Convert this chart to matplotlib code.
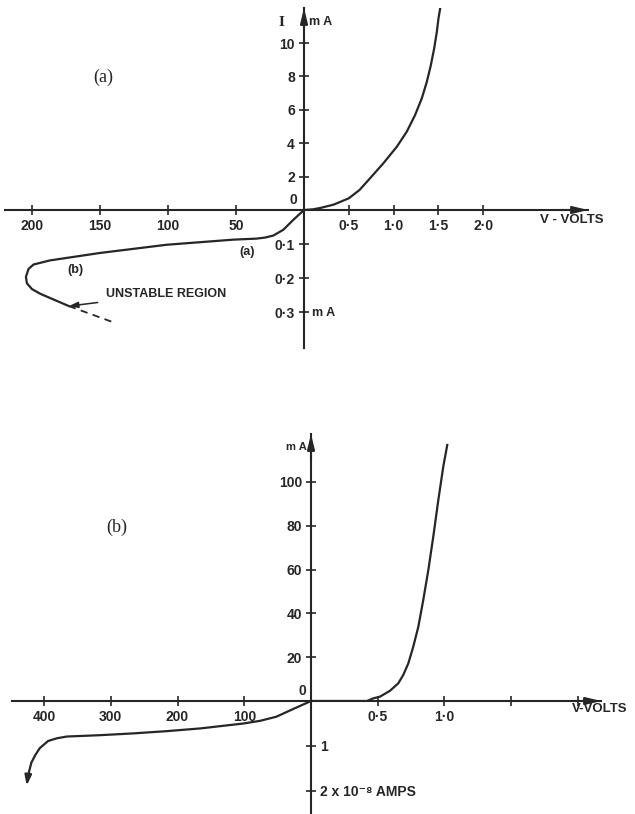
import numpy as np
import matplotlib.pyplot as plt

W, H = 635, 814
INK = "#262626"
plt.rcParams["font.family"] = ["Liberation Sans", "DejaVu Sans"]
plt.rcParams["font.weight"] = "bold"

# ---------- (a) characteristic ----------
fwd_a_v = [0.0, 0.10, 0.18, 0.33, 0.50, 0.62, 0.737, 0.886, 1.036, 1.147, 1.240,
           1.315, 1.371, 1.416, 1.453, 1.483, 1.501, 1.520]
fwd_a_i = [0.0, 0.04, 0.12, 0.32, 0.70, 1.20, 1.90, 2.80, 3.79, 4.69, 5.69,
           6.69, 7.68, 8.68, 9.68, 10.68, 11.48, 12.08]
rev_a_v = [0, -7.9, -15.2, -22.6, -28.7, -35, -52, -101, -150, -187, -199,
           -202.7, -204.6, -203.9, -200.2, -194, -173]
rev_a_i = [0, -0.029, -0.058, -0.075, -0.081, -0.084, -0.087, -0.102, -0.126, -0.148, -0.160,
           -0.173, -0.196, -0.215, -0.232, -0.246, -0.282]
unstable_v = [-173, -140]
unstable_i = [-0.282, -0.330]

a_rev_v_ticks = [-200, -150, -100, -50]
a_rev_v_labels = ["200", "150", "100", "50"]
a_fwd_v_ticks = [0.5, 1.0, 1.5, 2.0]
a_fwd_v_labels = ["0\u00b75", "1\u00b70", "1\u00b75", "2\u00b70"]
a_fwd_i_ticks = [2, 4, 6, 8, 10]
a_rev_i_ticks = [-0.1, -0.2, -0.3]
a_rev_i_labels = ["0\u00b71", "0\u00b72", "0\u00b73"]

# ---------- (b) characteristic ----------
fwd_b_v = [0.0, 0.42, 0.467, 0.518, 0.593, 0.655, 0.692, 0.730, 0.767, 0.805,
           0.842, 0.880, 0.917, 0.955, 0.992, 1.022]
fwd_b_i = [0.0, 0.0, 1.2, 2.0, 4.7, 8.1, 11.9, 17.2, 24.8, 33.9,
           46.1, 59.8, 75.0, 91.8, 107.0, 116.9]
rev_b_v = [0, -27, -52, -76, -101, -166, -216, -266, -316, -366, -381, -394,
           -406.5, -413, -419, -424, -426]
rev_b_i = [0, -0.18, -0.35, -0.44, -0.50, -0.61, -0.67, -0.72, -0.76, -0.79, -0.83, -0.89,
           -1.05, -1.20, -1.37, -1.66, -1.88]

b_rev_v_ticks = [-400, -300, -200, -100]
b_rev_v_labels = ["400", "300", "200", "100"]
b_fwd_v_ticks = [0.5, 1.0, 1.5, 2.0]
b_fwd_v_labels = ["0\u00b75", "1\u00b70", "", ""]
b_fwd_i_ticks = [20, 40, 60, 80, 100]
b_rev_i_ticks = [-1, -2]
b_rev_i_labels = ["1", "2 x 10\u207b\u2078 AMPS"]


def rect(x0, y0, x1, y1):
    return [x0 / W, 1 - y1 / H, (x1 - x0) / W, (y1 - y0) / H]


def px(x, y):
    return x / W, 1 - y / H


def style(ax):
    ax.patch.set_alpha(0)
    for s in ax.spines.values():
        s.set_color(INK)
        s.set_linewidth(1.5)
    ax.tick_params(direction="inout", length=7, width=1.2, color=INK,
                   labelsize=10, labelcolor=INK, pad=3)


def upper_right(ax, xlim, ylim):
    style(ax)
    ax.set_xlim(*xlim)
    ax.set_ylim(*ylim)
    ax.spines["top"].set_visible(False)
    ax.spines["right"].set_visible(False)
    ax.annotate("", xy=(1.0, 0), xytext=(0.9, 0), xycoords="axes fraction",
                arrowprops=dict(arrowstyle="-|>,head_length=0.9,head_width=0.22",
                                color=INK, lw=1.5, shrinkA=0, shrinkB=0))
    ax.annotate("", xy=(0, 1.0), xytext=(0, 0.9), xycoords="axes fraction",
                arrowprops=dict(arrowstyle="-|>,head_length=0.9,head_width=0.22",
                                color=INK, lw=1.5, shrinkA=0, shrinkB=0))


def lower_left(ax, xlim, ylim, labels_right):
    style(ax)
    ax.set_xlim(*xlim)
    ax.set_ylim(*ylim)
    ax.spines["top"].set_visible(False)
    ax.spines["bottom"].set_position(("data", 0))
    if labels_right:
        ax.spines["left"].set_visible(False)
        ax.yaxis.tick_right()
    else:
        ax.spines["right"].set_visible(False)
        ax.spines["left"].set_position(("data", 0))


fig = plt.figure(figsize=(W / 100, H / 100), dpi=100)

# ---- (a) ----
a1 = fig.add_axes(rect(304, 8, 588, 210))
upper_right(a1, (0, 3.17), (0, 12.1))
a1.set_xticks(a_fwd_v_ticks, a_fwd_v_labels)
a1.set_yticks(a_fwd_i_ticks)
a1.plot(fwd_a_v, fwd_a_i, color=INK, lw=1.6)

a3 = fig.add_axes(rect(5, 210, 304, 348))
lower_left(a3, (-220, 0), (-0.405, 0), labels_right=False)
a3.set_xticks(a_rev_v_ticks, a_rev_v_labels)
a3.set_yticks(a_rev_i_ticks, a_rev_i_labels)
a3.plot(rev_a_v, rev_a_i, color=INK, lw=1.6)
a3.plot(unstable_v, unstable_i, color=INK, lw=1.3, ls=(0, (4, 3)))
a3.annotate("UNSTABLE REGION", xy=(unstable_v[0], unstable_i[0]),
            xytext=px(106, 294), textcoords="figure fraction",
            fontsize=9, color=INK, va="center", ha="left",
            arrowprops=dict(arrowstyle="-|>,head_length=0.6,head_width=0.2",
                            color=INK, lw=1.1, shrinkA=4, shrinkB=0))

fig.text(*px(281, 22), "I", fontsize=11, color=INK, ha="center", va="center",
         family="Liberation Serif")
fig.text(*px(309, 22), "m A", fontsize=9, color=INK, ha="left", va="center")
fig.text(*px(293, 200), "0", fontsize=10, color=INK, ha="center", va="center")
fig.text(*px(572, 220), "V - VOLTS", fontsize=9.5, color=INK, ha="center", va="center")
fig.text(*px(312, 313), "m A", fontsize=9, color=INK, ha="left", va="center")
fig.text(*px(103, 77), "(a)", fontsize=13, color=INK, ha="center", va="center",
         family="Liberation Serif", weight="normal")
fig.text(*px(247, 252), "(a)", fontsize=9, color=INK, ha="center", va="center")
fig.text(*px(75, 270), "(b)", fontsize=9, color=INK, ha="center", va="center")

# ---- (b) ----
b1 = fig.add_axes(rect(311, 434, 601, 701))
upper_right(b1, (0, 2.175), (0, 121.9))
b1.set_xticks(b_fwd_v_ticks, b_fwd_v_labels)
b1.set_yticks(b_fwd_i_ticks)
b1.plot(fwd_b_v, fwd_b_i, color=INK, lw=1.6)

b3 = fig.add_axes(rect(12, 701, 311, 813))
lower_left(b3, (-448, 0), (-2.49, 0), labels_right=True)
b3.set_xticks(b_rev_v_ticks, b_rev_v_labels)
b3.set_yticks(b_rev_i_ticks, b_rev_i_labels)
b3.plot(rev_b_v[:-1], rev_b_i[:-1], color=INK, lw=1.6)
b3.annotate("", xy=(rev_b_v[-1], rev_b_i[-1]), xytext=(rev_b_v[-2], rev_b_i[-2]),
            arrowprops=dict(arrowstyle="-|>,head_length=0.6,head_width=0.2",
                            color=INK, lw=1.6, shrinkA=0, shrinkB=0))

fig.text(*px(296, 447), "m A", fontsize=8, color=INK, ha="center", va="center")
fig.text(*px(302, 691), "0", fontsize=10, color=INK, ha="center", va="center")
fig.text(*px(600, 709), "V-VOLTS", fontsize=9.5, color=INK, ha="center", va="center")
fig.text(*px(117, 527), "(b)", fontsize=13, color=INK, ha="center", va="center",
         family="Liberation Serif", weight="normal")

fig.savefig("out.png", dpi=100, facecolor="white")
